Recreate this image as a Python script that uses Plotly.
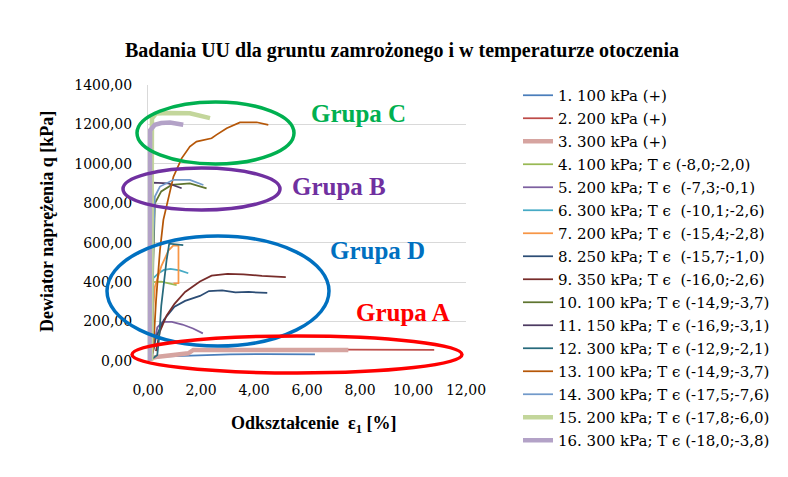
import plotly.graph_objects as go

W, H = 788, 477
ML, MR, MT, MB = 148, 322, 85, 116

names = [
    "1. 100 kPa (+)",
    "2. 200 kPa (+)",
    "3. 300 kPa (+)",
    "4. 100 kPa; T ϵ (-8,0;-2,0)",
    "5. 200 kPa; T ϵ \u00a0(-7,3;-0,1)",
    "6. 300 kPa; T ϵ \u00a0(-10,1;-2,6)",
    "7. 200 kPa; T ϵ \u00a0(-15,4;-2,8)",
    "8. 250 kPa; T ϵ \u00a0(-15,7;-1,0)",
    "9. 350 kPa; T ϵ \u00a0(-16,0;-2,6)",
    "10. 100 kPa; T ϵ (-14,9;-3,7)",
    "11. 150 kPa; T ϵ (-16,9;-3,1)",
    "12. 300 kPa; T ϵ (-12,9;-2,1)",
    "13. 100 kPa; T ϵ (-14,9;-3,7)",
    "14. 300 kPa; T ϵ (-17,5;-7,6)",
    "15. 200 kPa; T ϵ (-17,8;-6,0)",
    "16. 300 kPa; T ϵ (-18,0;-3,8)",
]

x1 = [0.0, 0.2, 0.45, 1.0, 1.58, 2.5, 3.09, 4.5, 6.3]
y1 = [8, 18, 22, 24, 27, 31, 34, 35, 33]
x2 = [0.0, 0.4, 1.5, 1.7, 3.0, 5.0, 7.5, 9.0, 10.8]
y2 = [10, 22, 38, 55, 58, 60, 58, 57, 56]
x3 = [0.0, 0.08, 0.39, 1.0, 1.52, 1.71, 2.47, 4.35, 6.24, 7.56]
y3 = [10, 14, 22, 30, 39, 56, 56, 60, 59, 56]
x4 = [0.1, 0.15, 0.2, 0.5, 0.8, 1.08]
y4 = [0, 200, 400, 402, 395, 385]
x5 = [0.05, 0.2, 0.35, 0.55, 0.9, 1.3, 1.7, 2.07]
y5 = [10, 60, 170, 198, 198, 185, 165, 140]
x6 = [0.1, 0.15, 0.2, 0.4, 0.6, 0.85, 1.2, 1.52]
y6 = [0, 300, 420, 445, 462, 467, 460, 445]
x7 = [0.05, 0.15, 0.26, 0.5, 0.77, 0.95, 1.15, 1.15, 0.96]
y7 = [0, 200, 377, 480, 560, 585, 585, 395, 394]
x8 = [0.15, 0.3, 0.6, 1.0, 1.4, 1.96, 2.3, 2.8, 3.3, 3.8, 4.5]
y8 = [20, 120, 210, 275, 305, 330, 355, 358, 348, 350, 345]
x9 = [0.3, 0.45, 0.7, 1.0, 1.4, 1.96, 2.4, 3.0, 3.6, 4.3, 5.2]
y9 = [50, 150, 230, 290, 350, 403, 433, 442, 440, 432, 426]
x10 = [0.15, 0.2, 0.26, 0.5, 0.89, 1.58, 2.21]
y10 = [0, 500, 800, 860, 893, 901, 876]
x11 = [0.15, 0.17, 0.18, 0.18, 0.77, 1.27]
y11 = [0, 500, 817, 905, 901, 876]
x12 = [0.05, 0.2, 0.35, 0.42, 0.5, 0.6, 0.7, 0.8, 1.0, 1.33]
y12 = [20, 15, 30, 120, 280, 400, 510, 595, 592, 588]
x13 = [0.1, 0.2, 0.3, 0.45, 0.58, 0.7, 0.96, 1.27, 1.58, 1.83, 2.4, 2.58, 2.97, 3.47, 4.1, 4.54]
y13 = [0, 60, 300, 560, 716, 783, 935, 1028, 1088, 1113, 1130, 1147, 1181, 1210, 1211, 1198]
x14 = [0.15, 0.2, 0.26, 0.45, 0.96, 1.58, 2.09]
y14 = [0, 600, 834, 885, 919, 919, 893]
x15 = [0.12, 0.14, 0.15, 0.3, 0.8, 1.58, 2.0, 2.34]
y15 = [0, 600, 1230, 1255, 1258, 1257, 1245, 1232]
x16 = [0.06, 0.07, 0.08, 0.26, 0.5, 0.83, 1.1, 1.33]
y16 = [0, 600, 1170, 1198, 1207, 1210, 1205, 1198]

xs = [x1, x2, x3, x4, x5, x6, x7, x8, x9, x10, x11, x12, x13, x14, x15, x16]
ys = [y1, y2, y3, y4, y5, y6, y7, y8, y9, y10, y11, y12, y13, y14, y15, y16]

colors = ["#4A7EBB", "#BE4B48", "#D6A4A0", "#98B954", "#7D60A0", "#46AAC5",
          "#F79646", "#2C4D75", "#772C2A", "#5F7530", "#4D3B62", "#276A7C",
          "#B65708", "#729ACA", "#C3D69B", "#B3A2C7"]
widths = [1.75, 1.75, 4.5, 1.75, 1.75, 1.75, 1.75, 1.75, 1.75, 1.75, 1.75,
          1.75, 1.75, 1.75, 4.5, 4.5]

groups = ["Grupa C", "Grupa B", "Grupa D", "Grupa A"]
group_colors = ["#00B050", "#7030A0", "#0070C0", "#FF0000"]

x_ticks = [0, 2, 4, 6, 8, 10, 12]
y_ticks = [0, 200, 400, 600, 800, 1000, 1200, 1400]

SERIF = "Liberation Serif"
WIDE = "DejaVu Serif"

fig = go.Figure()
for i in range(16):
    fig.add_trace(go.Scatter(x=xs[i], y=ys[i], mode="lines", name=names[i],
                             line=dict(color=colors[i], width=widths[i]),
                             legendgroup=str(i)))


def px(x):
    return (x - ML) / (W - ML - MR)


def py(y):
    return (H - MB - y) / (H - MT - MB)


# ellipses (pixel boxes)
ell = [(137, 102, 294, 164), (123, 168, 280, 210), (107, 236, 329, 346), (132, 336, 462, 373)]
for (x0, y0, x1_, y1_), c in zip(ell, group_colors):
    fig.add_shape(type="circle", xref="paper", yref="paper",
                  x0=px(x0), x1=px(x1_), y0=py(y1_), y1=py(y0),
                  line=dict(color=c, width=3.5), layer="above")

lbl = [(358, 113), (339, 186), (377, 250), (403, 312)]
for (lx, ly), g, c in zip(lbl, groups, group_colors):
    fig.add_annotation(x=px(lx), y=py(ly), xref="paper", yref="paper",
                       xanchor="center", yanchor="middle",
                       text="<b>" + g + "</b>", showarrow=False,
                       font=dict(family=SERIF, size=25, color=c))

fig.add_annotation(x=px(313), y=py(424), xref="paper", yref="paper",
                   xanchor="center", yanchor="middle",
                   text="<b>Odkształcenie \u00a0ε<sub>1</sub> [%]</b>", showarrow=False,
                   font=dict(family=SERIF, size=18, color="black"))
fig.add_annotation(x=px(47), y=py(222), xref="paper", yref="paper",
                   xanchor="center", yanchor="middle",
                   text="<b>Dewiator naprężenia q [kPa]</b>", showarrow=False, textangle=-90,
                   font=dict(family=SERIF, size=18, color="black"))

fig.update_layout(
    width=W, height=H,
    margin=dict(l=ML, r=MR, t=MT, b=MB, autoexpand=False),
    paper_bgcolor="white", plot_bgcolor="white",
    separators=", ",
    title=dict(text="<b>Badania UU dla gruntu zamrożonego i w temperaturze otoczenia</b>",
               x=402 / W, xanchor="center", y=1 - 50 / H, yanchor="middle",
               font=dict(family=SERIF, size=20, color="black")),
    font=dict(family=SERIF, size=17, color="black"),
    showlegend=True,
    legend=dict(x=px(518), xanchor="left", y=py(79), yanchor="top",
                maxheight=400,
                font=dict(family=WIDE, size=15, color="black"),
                tracegroupgap=0.5, bgcolor="rgba(0,0,0,0)"),
    xaxis=dict(range=[0, 12], tickvals=x_ticks, tickformat=".2f", showgrid=False,
               zeroline=False, showline=False, ticks="outside", ticklen=16,
               tickcolor="rgba(0,0,0,0)", tickfont=dict(family=WIDE, size=14),
               automargin=False),
    yaxis=dict(range=[0, 1400], tickvals=y_ticks, tickformat=".2f", showgrid=True,
               gridcolor="#D9D9D9", gridwidth=1, zeroline=False, showline=True,
               linecolor="#D9D9D9", ticks="outside", ticklen=12,
               tickcolor="rgba(0,0,0,0)", tickfont=dict(family=WIDE, size=14),
               automargin=False),
)

fig.write_html("out.html")
